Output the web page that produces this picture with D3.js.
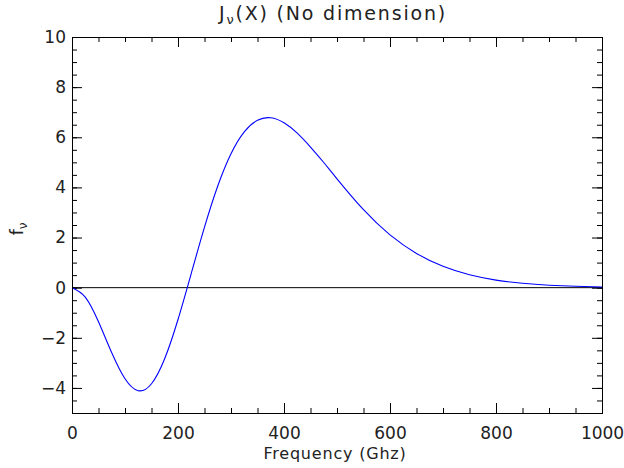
<!DOCTYPE html>
<html><head><meta charset="utf-8">
<script src="https://cdn.jsdelivr.net/npm/d3@7"></script>
<style>body{margin:0;background:#fff}svg{display:block}text{font-family:"DejaVu Sans",sans-serif;fill:#222}</style>
</head><body><div id="chart"></div>
<script>
const freqGHz = [0,25,50,75,100,125,150,175,200,225,250,275,300,325,350,375,400,425,450,475,500,550,600,650,700,750,800,850,900,950,1000];
const jnuValues = [0,-0.375,-1.361,-2.598,-3.634,-4.110,-3.833,-2.827,-1.270,0.567,2.414,4.056,5.343,6.216,6.679,6.776,6.576,6.164,5.609,4.993,4.343,3.110,2.108,1.365,0.851,0.514,0.302,0.174,0.098,0.054,0.029];
const xMajorTicks = [0,200,400,600,800,1000];
const xMinorTicks = d3.range(0,1001,50);
const yMajorTicks = [-4,-2,0,2,4,6,8,10];
const yMinorTicks = d3.range(-5,10.01,0.5);
const titleMain = "J", titleSub = "\u03bd", titleRest = "(X) (No dimension)";
const xLabel = "Frequency (Ghz)";
const yLabelMain = "f", yLabelSub = "\u03bd";

const W=624,H=468, L=72,R=602,T=37,B=413;
const svg=d3.select("#chart").append("svg").attr("width",W).attr("height",H);
const x=d3.scaleLinear().domain([0,1000]).range([L,R]);
const y=d3.scaleLinear().domain([-5,10]).range([B,T]);

function ticks(axisFn, scale, vals, size, tr, labels){
  const a=axisFn(scale).tickValues(vals).tickSize(size).tickPadding(14);
  if(!labels) a.tickFormat("");
  else a.tickFormat(d=>String(d).replace("-","\u2212"));
  const g=svg.append("g").attr("transform",tr).call(a);
  g.select(".domain").remove();
  g.selectAll("line").attr("stroke","#000").attr("stroke-width",1);
  g.selectAll("text").attr("font-size",17).attr("fill","#222").attr("font-family","DejaVu Sans, sans-serif");
  return g;
}
// bottom
ticks(d3.axisBottom,x,xMinorTicks,-5,`translate(0,${B})`,false);
const gb=ticks(d3.axisBottom,x,xMajorTicks,-10,`translate(0,${B})`,true);
gb.selectAll("text").attr("y",26).attr("dy",0);
// top
ticks(d3.axisTop,x,xMinorTicks,-5,`translate(0,${T})`,false);
ticks(d3.axisTop,x,xMajorTicks,-10,`translate(0,${T})`,false);
// left
ticks(d3.axisLeft,y,yMinorTicks,-5,`translate(${L},0)`,false);
const gl=ticks(d3.axisLeft,y,yMajorTicks,-10,`translate(${L},0)`,true);
gl.selectAll("text").attr("x",-6);
// right
ticks(d3.axisRight,y,yMinorTicks,-5,`translate(${R},0)`,false);
ticks(d3.axisRight,y,yMajorTicks,-10,`translate(${R},0)`,false);

// zero line
svg.append("line").attr("x1",x(0)).attr("x2",x(1000)).attr("y1",y(0)).attr("y2",y(0)).attr("stroke","#000").attr("stroke-width",1);
// curve
const line=d3.line().x((d,i)=>x(freqGHz[i])).y(d=>y(d)).curve(d3.curveNatural);
svg.append("path").datum(jnuValues).attr("d",line).attr("fill","none").attr("stroke","#0000ff").attr("stroke-width",1.1);
// frame
svg.append("rect").attr("x",L+0.5).attr("y",T+0.5).attr("width",R-L).attr("height",B-T).attr("fill","none").attr("stroke","#000").attr("stroke-width",1);

// title
const t=svg.append("text").attr("x",(L+R)/2-4).attr("y",20).attr("text-anchor","middle").attr("font-size",19).attr("letter-spacing",1.8);
t.append("tspan").text(titleMain);
t.append("tspan").text(titleSub).attr("font-size",13).attr("dy",4);
t.append("tspan").text(titleRest).attr("dy",-4);
// x label
svg.append("text").attr("x",(L+R)/2-2).attr("y",458.5).attr("text-anchor","middle").attr("font-size",16).attr("letter-spacing",0.8).text(xLabel);
// y label
const yl=svg.append("text").attr("transform","translate(23,229) rotate(-90)").attr("text-anchor","middle").attr("font-size",17);
yl.append("tspan").text(yLabelMain);
yl.append("tspan").text(yLabelSub).attr("font-size",12).attr("dy",4);
</script></body></html>
